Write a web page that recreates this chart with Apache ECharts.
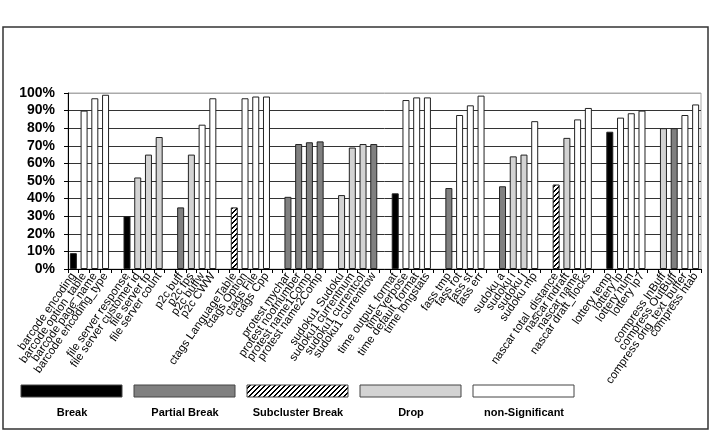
<!DOCTYPE html>
<html>
<head>
<meta charset="utf-8">
<script src="https://cdn.jsdelivr.net/npm/echarts@6/dist/echarts.min.js"></script>
<style>
  html, body { margin: 0; padding: 0; background: #fff; }
  #chart { width: 720px; height: 432px; }
</style>
</head>
<body>
<div id="chart"></div>
<script>
// one entry per slot, '' = gap between groups
var categories = [
  'barcode encoding', 'barcode option_table', 'barcode page_name', 'barcode encoding_type', '',
  'file server response', 'file server customer id', 'file server fp', 'file server count', '',
  'p2c buff', 'p2c fps', 'p2c buffw', 'p2c CWW', '',
  'ctags LanguageTable', 'ctags Option', 'ctags File', 'ctags Cpp', '',
  'protest mychar', 'protest noofnumber', 'protest name1Comp', 'protest name2Comp', '',
  'sudoku1 Sudoku', 'sudoku1 currentnum', 'sudoku1 currentcol', 'sudoku1 currentrow', '',
  'time output_format', 'time verbose', 'time default_format', 'time longstats', '',
  'fass tmp', 'fass rot', 'fass st', 'fass err', '',
  'sudoku a', 'sudoku i', 'sudoku j', 'sudoku mp', '',
  'nascar total_distance', 'nascar indraft', 'nascar name', 'nascar draft_flocks', '',
  'lottery temp', 'lottery lp', 'lottery num', 'lottery lp7', '',
  'compress InBuff', 'compress OutBuff', 'compress orig_text_buffer', 'compress htab'
];
var values = [
  9, 90, 97, 99, null,
  30, 52, 65, 75, null,
  35, 65, 82, 97, null,
  35, 97, 98, 98, null,
  41, 71, 72, 72.5, null,
  42, 69, 71, 71, null,
  43, 96, 97.5, 97.5, null,
  46, 87.5, 93, 98.5, null,
  47, 64, 65, 84, null,
  48, 74.5, 85, 91.5, null,
  78, 86, 88.5, 90, null,
  80, 80, 87.5, 93.5
];
// B = Break, P = Partial Break, S = Subcluster Break, D = Drop, N = non-Significant
var kinds = [
  'B', 'N', 'N', 'N', null,
  'B', 'D', 'D', 'D', null,
  'P', 'D', 'N', 'N', null,
  'S', 'N', 'N', 'N', null,
  'P', 'P', 'P', 'P', null,
  'D', 'D', 'D', 'P', null,
  'B', 'N', 'N', 'N', null,
  'P', 'N', 'N', 'N', null,
  'P', 'D', 'D', 'N', null,
  'S', 'D', 'N', 'N', null,
  'B', 'N', 'N', 'N', null,
  'D', 'P', 'N', 'N'
];
var kindKeys = ['B', 'P', 'S', 'D', 'N'];
var kindNames = ['Break', 'Partial Break', 'Subcluster Break', 'Drop', 'non-Significant'];
var yTicks = [0, 10, 20, 30, 40, 50, 60, 70, 80, 90, 100];

// diagonal hatch tile
function hatchTile() {
  var n = 5;
  var c = document.createElement('canvas');
  c.width = n; c.height = n;
  var ctx = c.getContext('2d');
  ctx.fillStyle = '#fff';
  ctx.fillRect(0, 0, n, n);
  ctx.fillStyle = '#000';
  for (var i = 0; i < n; i++) {
    ctx.fillRect(i, n - 1 - i, 1, 1);
    ctx.fillRect(i, (n - i) % n, 1, 1);
  }
  return c;
}
var hatch = { image: hatchTile(), repeat: 'repeat' };
var fills = {
  B: '#000000',
  P: '#808080',
  S: hatch,
  D: '#d3d3d3',
  N: '#ffffff'
};

var chart = echarts.init(document.getElementById('chart'), null, { renderer: 'canvas' });

var series = kindKeys.map(function (k, idx) {
  return {
    name: kindNames[idx],
    type: 'bar',
    stack: 'all',
    barWidth: 7,
    itemStyle: { color: fills[k], borderColor: '#222', borderWidth: 1 },
    data: values.map(function (v, i) { return kinds[i] === k ? v : '-'; }),
    animation: false
  };
});

// legend drawn as boxes with caption underneath
var legendGraphics = [];
kindKeys.forEach(function (k, idx) {
  var x0 = 21 + idx * 113;
  legendGraphics.push({
    type: 'rect',
    shape: { x: x0, y: 385, width: 101, height: 12 },
    style: { fill: fills[k], stroke: '#444', lineWidth: 1 }
  });
  legendGraphics.push({
    type: 'text',
    style: {
      x: x0 + 51, y: 413, text: kindNames[idx],
      fill: '#000', font: 'bold 11px "Liberation Sans", Arial',
      align: 'center', verticalAlign: 'middle'
    }
  });
});

var gridColors = yTicks.map(function (t) { return t === 100 ? '#aaaaaa' : '#333333'; });

chart.setOption({
  backgroundColor: '#ffffff',
  animation: false,
  grid: { left: 68, right: 19, top: 93, bottom: 163, show: true, borderColor: '#aaaaaa', borderWidth: 1 },
  xAxis: {
    type: 'category',
    data: categories,
    axisLine: { lineStyle: { color: '#000', width: 1 } },
    axisTick: { show: true, interval: 0, length: 4, lineStyle: { color: '#000' } },
    axisLabel: {
      interval: 0, rotate: 55, margin: 5,
      fontFamily: '"Liberation Sans", Arial', fontSize: 11.5, color: '#000'
    }
  },
  yAxis: {
    type: 'value',
    min: 0, max: 100, interval: 10,
    axisLine: { show: true, lineStyle: { color: '#000' } },
    axisTick: { show: true, length: 4, lineStyle: { color: '#000' } },
    axisLabel: {
      formatter: '{value}%', margin: 13,
      fontFamily: '"Liberation Sans", Arial', fontWeight: 'bold', fontSize: 14, color: '#000'
    },
    splitLine: { show: true, lineStyle: { color: gridColors, width: 1 } }
  },
  graphic: [{
    type: 'rect',
    shape: { x: 3, y: 27, width: 705, height: 402 },
    style: { fill: null, stroke: '#333', lineWidth: 1.5 },
    silent: true
  }].concat(legendGraphics),
  series: series
});
</script>
</body>
</html>
